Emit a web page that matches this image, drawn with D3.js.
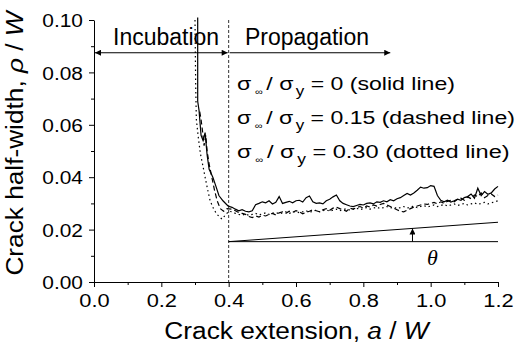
<!DOCTYPE html>
<html><head><meta charset="utf-8">
<script src="https://cdn.jsdelivr.net/npm/d3@7/dist/d3.min.js"></script>
<style>
html,body{margin:0;padding:0;background:#fff;}
svg{display:block;font-family:"Liberation Sans",Arial,sans-serif;}
</style></head><body>
<svg id="chart" width="519" height="347"></svg>
<script>
// ---- data ----
const xTicks = [0.0, 0.2, 0.4, 0.6, 0.8, 1.0, 1.2];
const xMinor = [0.1, 0.3, 0.5, 0.7, 0.9, 1.1];
const yTicks = [0.00, 0.02, 0.04, 0.06, 0.08, 0.10];
const yMinor = [0.01, 0.03, 0.05, 0.07, 0.09];

const propA = [0.41,0.42,0.43,0.44,0.45,0.46,0.47,0.48,0.49,0.50,0.51,0.52,0.53,0.54,0.55,0.56,0.57,0.58,0.59,0.60,
 0.61,0.62,0.63,0.64,0.65,0.66,0.67,0.68,0.69,0.70,0.71,0.72,0.73,0.74,0.75,0.76,0.77,0.78,0.79,0.80,
 0.81,0.82,0.83,0.84,0.85,0.86,0.87,0.88,0.89,0.90,0.91,0.92,0.93,0.94,0.95,0.96,0.97,0.98,0.99,1.00,
 1.01,1.02,1.03,1.04,1.05,1.06,1.07,1.08,1.09,1.10,1.11,1.12,1.13,1.14,1.15,1.16,1.17,1.18,1.19,1.20];

// sigma_inf / sigma_y = 0 (solid)
const solidIncA = [0.308,0.308,0.312,0.318,0.324,0.330,0.336,0.342,0.353,0.362,0.371,0.383,0.398];
const solidIncV = [0.101,0.069,0.0655,0.056,0.054,0.057,0.0485,0.043,0.040,0.0366,0.033,0.031,0.029];
const solidProp = [0.0285,0.0278,0.0272,0.0276,0.0270,0.0268,0.0272,0.0295,0.0300,0.0306,0.0302,0.0310,0.0298,0.0304,0.0326,0.0300,0.0304,0.0308,0.0302,0.0310,
 0.0312,0.0305,0.0322,0.0328,0.0306,0.0300,0.0302,0.0298,0.0310,0.0316,0.0325,0.0332,0.0310,0.0300,0.0295,0.0290,0.0288,0.0292,0.0296,0.0294,
 0.0300,0.0302,0.0298,0.0306,0.0304,0.0310,0.0306,0.0314,0.0310,0.0318,0.0322,0.0330,0.0338,0.0332,0.0340,0.0350,0.0362,0.0358,0.0360,0.0368,
 0.0365,0.0330,0.0312,0.0306,0.0312,0.0305,0.0310,0.0316,0.0312,0.0322,0.0326,0.0336,0.0320,0.0358,0.0330,0.0345,0.0335,0.0340,0.0355,0.0365];

// sigma_inf / sigma_y = 0.15 (dashed)
const dashIncA = [0.314,0.318,0.322,0.327,0.332,0.336,0.342,0.350,0.358,0.366,0.375,0.385,0.395];
const dashIncV = [0.065,0.062,0.058,0.052,0.056,0.050,0.045,0.040,0.035,0.031,0.028,0.027,0.028];
const dashProp = [0.0278,0.0272,0.0265,0.0262,0.0258,0.0250,0.0246,0.0252,0.0248,0.0255,0.0252,0.0258,0.0262,0.0256,0.0264,0.0268,0.0262,0.0270,0.0266,0.0272,
 0.0268,0.0260,0.0266,0.0270,0.0276,0.0272,0.0268,0.0276,0.0280,0.0274,0.0282,0.0286,0.0280,0.0276,0.0270,0.0282,0.0278,0.0284,0.0288,0.0282,
 0.0290,0.0286,0.0294,0.0290,0.0296,0.0300,0.0294,0.0288,0.0282,0.0276,0.0270,0.0268,0.0274,0.0280,0.0286,0.0290,0.0294,0.0298,0.0296,0.0300,
 0.0304,0.0298,0.0306,0.0300,0.0308,0.0312,0.0306,0.0316,0.0320,0.0312,0.0325,0.0318,0.0332,0.0326,0.0340,0.0322,0.0330,0.0336,0.0326,0.0332];

// sigma_inf / sigma_y = 0.30 (dotted)
const dotIncA = [0.300,0.302,0.304,0.310,0.316,0.324,0.330,0.338,0.345,0.355,0.364,0.372,0.380,0.390,0.400];
const dotIncV = [0.100,0.075,0.062,0.055,0.049,0.044,0.040,0.035,0.031,0.028,0.026,0.025,0.024,0.0255,0.027];
const dotProp = [0.0268,0.0262,0.0258,0.0255,0.0260,0.0254,0.0258,0.0262,0.0256,0.0260,0.0264,0.0258,0.0262,0.0266,0.0260,0.0264,0.0268,0.0262,0.0266,0.0270,
 0.0264,0.0268,0.0272,0.0266,0.0270,0.0274,0.0268,0.0272,0.0276,0.0270,0.0274,0.0278,0.0272,0.0276,0.0280,0.0274,0.0278,0.0282,0.0276,0.0280,
 0.0284,0.0278,0.0282,0.0286,0.0280,0.0284,0.0288,0.0282,0.0286,0.0280,0.0284,0.0288,0.0282,0.0286,0.0290,0.0284,0.0288,0.0292,0.0286,0.0290,
 0.0294,0.0288,0.0292,0.0296,0.0290,0.0294,0.0298,0.0292,0.0296,0.0300,0.0294,0.0298,0.0302,0.0296,0.0300,0.0304,0.0298,0.0302,0.0306,0.0310];

const legendValues = ["0", "0.15", "0.30"];
const legendStyles = ["solid line", "dashed line", "dotted line"];

// annotation values
const phaseBoundary = 0.4;
const incubationX = [0.0, 0.4];
const propagationX = [0.4, 0.88];
const phaseArrowY = 0.0875;
const wedgeX = [0.4, 1.2];
const wedgeY = [0.0154, 0.0228];
const wedgeArrowX = 0.946;

// ---- layout ----
const svg = d3.select("#chart");
const L = 94, R = 498, T = 20, B = 282;
const x = d3.scaleLinear().domain([0, 1.2]).range([L, R]);
const y = d3.scaleLinear().domain([0, 0.1]).range([B, T]);

svg.append("defs").html(
 '<marker id="ah" viewBox="0 0 10 10" refX="10" refY="5" markerWidth="8" markerHeight="6" markerUnits="userSpaceOnUse" orient="auto-start-reverse"><path d="M0,0L10,5L0,10z" fill="#000"/></marker>');

// horizontal stretch helper: scale text about its anchor to a target width factor or width
function stretch(sel, ax, ay, sx) {
  sel.attr("x", 0).attr("y", 0).attr("transform", `translate(${ax},${ay}) scale(${sx},1)`);
}

// axes
const fs = 19;
const xAxis = svg.append("g").attr("transform", `translate(0,${B})`)
  .call(d3.axisBottom(x).tickValues(xTicks).tickFormat(d3.format(".1f")).tickSize(5).tickSizeOuter(0));
svg.append("g").attr("transform", `translate(0,${B})`)
  .call(d3.axisBottom(x).tickValues(xMinor).tickFormat("").tickSize(3).tickSizeOuter(0))
  .select(".domain").remove();
const yAxis = svg.append("g").attr("transform", `translate(${L},0)`)
  .call(d3.axisLeft(y).tickValues(yTicks).tickFormat(d3.format(".2f")).tickSize(5).tickSizeOuter(0));
svg.append("g").attr("transform", `translate(${L},0)`)
  .call(d3.axisLeft(y).tickValues(yMinor).tickFormat("").tickSize(3).tickSizeOuter(0))
  .select(".domain").remove();
svg.selectAll(".tick line, .domain").attr("stroke", "#000").attr("stroke-width", 1);
xAxis.selectAll("text").attr("font-size", fs).attr("font-family", "Liberation Sans, Arial").attr("fill", "#000")
  .attr("dy", null).each(function(){ stretch(d3.select(this), 0, 25, 1.15); });
yAxis.selectAll("text").attr("font-size", fs).attr("font-family", "Liberation Sans, Arial").attr("fill", "#000")
  .attr("dy", "0.35em").each(function(){ stretch(d3.select(this), -11, 0, 1.1); });

// axis titles
const xt = svg.append("text").attr("text-anchor", "middle").attr("font-size", 23).attr("fill", "#000");
xt.append("tspan").text("Crack extension, ");
xt.append("tspan").attr("font-style", "italic").text("a");
xt.append("tspan").text(" / ");
xt.append("tspan").attr("font-style", "italic").text("W");
stretch(xt, 296.5, 339, 267 / xt.node().getBBox().width);

const yt = svg.append("text").attr("text-anchor", "middle").attr("font-size", 23).attr("fill", "#000");
yt.append("tspan").text("Crack half-width, ");
yt.append("tspan").attr("font-style", "italic").text("ρ");
yt.append("tspan").text(" / ");
yt.append("tspan").attr("font-style", "italic").text("W");
const ytw = yt.node().getBBox().width;
yt.attr("x", 0).attr("y", 0).attr("transform", `translate(23,143.5) rotate(-90) scale(${267 / ytw},1)`);

// phase boundary
svg.append("line").attr("x1", x(phaseBoundary)).attr("x2", x(phaseBoundary))
  .attr("y1", y(0.1)).attr("y2", y(0)).attr("stroke", "#333").attr("stroke-width", 1).attr("stroke-dasharray", "3,2");

// phase arrows
svg.append("line").attr("x1", x(incubationX[0]) + 1).attr("x2", x(incubationX[1]) - 1)
  .attr("y1", y(phaseArrowY)).attr("y2", y(phaseArrowY)).attr("stroke", "#000").attr("stroke-width", 1)
  .attr("marker-start", "url(#ah)").attr("marker-end", "url(#ah)");
svg.append("line").attr("x1", x(propagationX[0]) + 1).attr("x2", x(propagationX[1]))
  .attr("y1", y(phaseArrowY)).attr("y2", y(phaseArrowY)).attr("stroke", "#000").attr("stroke-width", 1)
  .attr("marker-end", "url(#ah)");
svg.append("text").attr("x", 113).attr("y", 45).attr("font-size", 23).attr("fill", "#000").text("Incubation");
svg.append("text").attr("x", 245).attr("y", 45).attr("font-size", 23).attr("fill", "#000").text("Propagation");

// curves
const line = d3.line().x(d => x(d[0])).y(d => y(d[1]));
function series(incA, incV, prop) {
  const pts = incA.map((a, i) => [a, incV[i]]);
  propA.forEach((a, i) => pts.push([a, prop[i]]));
  return pts;
}
const curves = [
  {pts: series(solidIncA, solidIncV, solidProp), dash: null},
  {pts: series(dashIncA, dashIncV, dashProp), dash: "5,3"},
  {pts: series(dotIncA, dotIncV, dotProp), dash: "1.5,3"}
];
curves.forEach(c => {
  svg.append("path").datum(c.pts).attr("d", line).attr("fill", "none")
    .attr("stroke", "#000").attr("stroke-width", 1.2)
    .attr("stroke-dasharray", c.dash);
});

// theta wedge
svg.append("line").attr("x1", x(wedgeX[0])).attr("x2", x(wedgeX[1]))
  .attr("y1", y(wedgeY[0])).attr("y2", y(wedgeY[0])).attr("stroke", "#000");
svg.append("line").attr("x1", x(wedgeX[0])).attr("x2", x(wedgeX[1]))
  .attr("y1", y(wedgeY[0])).attr("y2", y(wedgeY[1])).attr("stroke", "#000");
const slopeAt = wedgeY[0] + (wedgeY[1] - wedgeY[0]) * (wedgeArrowX - wedgeX[0]) / (wedgeX[1] - wedgeX[0]);
svg.append("line").attr("x1", x(wedgeArrowX)).attr("x2", x(wedgeArrowX))
  .attr("y1", y(wedgeY[0])).attr("y2", y(slopeAt)).attr("stroke", "#000")
  .attr("marker-end", "url(#ah)");
svg.append("text").attr("x", x(wedgeArrowX) + 20).attr("y", 265).attr("text-anchor", "middle")
  .attr("font-family", "Liberation Serif, Times New Roman, serif").attr("font-style", "italic")
  .attr("font-size", 22).attr("fill", "#000").text("θ");

// legend text
const rowY = [90, 124, 158];
const rowW = [218, 278, 273];
legendValues.forEach((v, i) => {
  const t = svg.append("text").attr("font-size", 19).attr("fill", "#000");
  t.append("tspan").text("σ");
  t.append("tspan").attr("font-size", 9).attr("dx", 3).attr("dy", 5).text("∞");
  t.append("tspan").attr("dx", 3).attr("dy", -5).text("/ σ");
  t.append("tspan").attr("font-size", 14).attr("dx", 2).attr("dy", 6).text("y");
  t.append("tspan").attr("dy", -6).text(" = " + v + " (" + legendStyles[i] + ")");
  t.attr("x", 0).attr("y", 0);
  const w = t.node().getBBox().width;
  t.attr("transform", `translate(237,${rowY[i]}) scale(${rowW[i] / w},1)`);
});
</script>
</body></html>
